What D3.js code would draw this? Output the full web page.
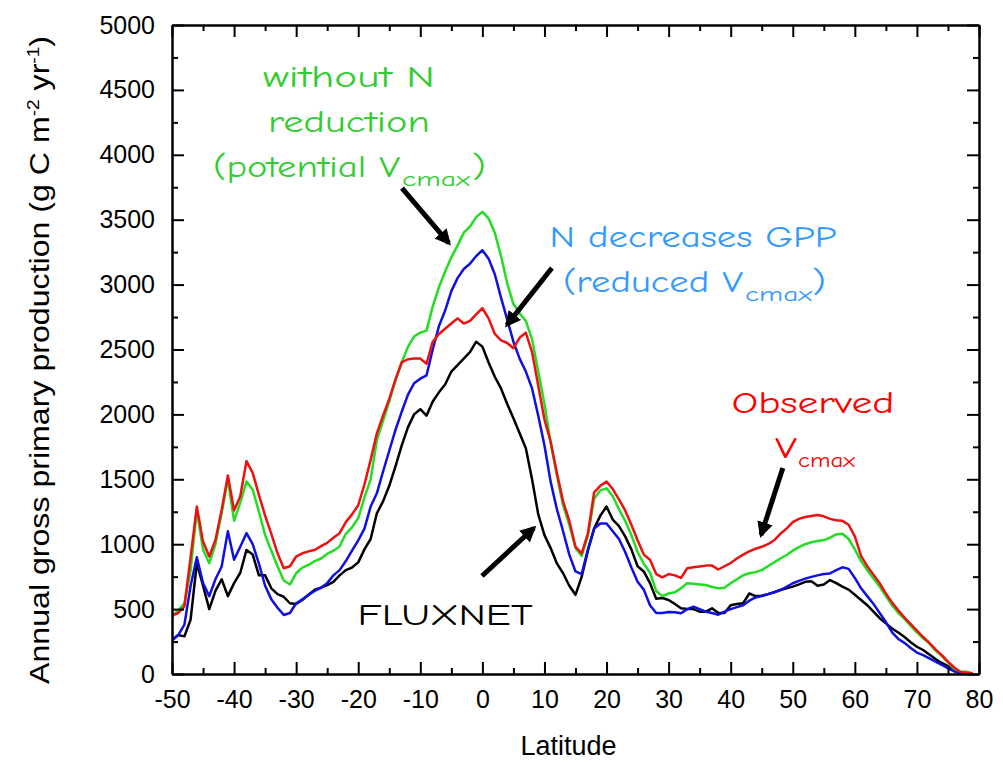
<!DOCTYPE html>
<html>
<head>
<meta charset="utf-8">
<script src="https://cdn.jsdelivr.net/npm/d3@7"></script>
<style>
body { margin: 0; background: #fff; }
svg { display: block; }
.axis path, .axis line { stroke: #000; stroke-width: 2; }
.axis text { font-family: "Liberation Sans", Arial, sans-serif; font-size: 25px; fill: #000; }
.note { font-family: "Comic Sans MS", "Comic Neue", "DejaVu Sans", sans-serif; }
</style>
</head>
<body>
<svg id="chart" width="1003" height="762"></svg>
<script>
// latitude grid (degrees)
var lat = [-50,-49,-48,-47,-46,-45,-44,-43,-42,-41,-40,-39,-38,-37,-36,-35,-34,-33,-32,-31,
  -30,-29,-28,-27,-26,-25,-24,-23,-22,-21,-20,-19,-18,-17,-16,-15,-14,-13,-12,-11,
  -10,-9,-8,-7,-6,-5,-4,-3,-2,-1,0,1,2,3,4,5,6,7,8,9,
  10,11,12,13,14,15,16,17,18,19,20,21,22,23,24,25,26,27,28,29,
  30,31,32,33,34,35,36,37,38,39,40,41,42,43,44,45,46,47,48,49,
  50,51,52,53,54,55,56,57,58,59,60,61,62,63,64,65,66,67,68,69,
  70,71,72,73,74,75,76,77,78,79];

// observed Vcmax (red)
var observed = [450,470,520,900,1290,1020,905,1033,1264,1530,1260,1370,1640,1550,1380,1220,1080,930,815,830,
  905,930,945,955,985,1010,1050,1085,1170,1230,1300,1460,1650,1854,1990,2120,2270,2400,2425,2430,
  2430,2390,2560,2620,2660,2700,2740,2700,2720,2770,2818,2740,2620,2570,2550,2510,2590,2630,2480,2220,
  1960,1790,1550,1330,1180,980,930,1084,1400,1450,1482,1425,1345,1260,1150,1030,920,880,770,745,
  770,760,740,815,822,828,835,835,805,830,855,890,920,945,965,980,1000,1030,1080,1120,
  1170,1195,1210,1218,1225,1215,1195,1185,1180,1150,1060,910,830,765,699,620,550,490,435,385,
  335,285,240,190,145,95,50,15,10,5];

// without N reduction, potential Vcmax (green)
var potential = [440,490,545,800,1260,960,853,1000,1240,1500,1180,1320,1483,1420,1250,1070,950,830,720,690,
  776,820,840,870,890,925,950,982,1080,1130,1200,1360,1500,1803,1950,2100,2260,2400,2520,2600,
  2630,2645,2830,2980,3100,3210,3300,3400,3447,3520,3560,3510,3400,3220,3010,2850,2780,2720,2580,2330,
  2080,1780,1530,1300,1150,970,910,1065,1350,1415,1430,1370,1270,1180,1070,940,850,780,640,600,
  620,630,660,700,695,690,686,670,660,665,700,730,760,776,785,800,830,860,890,917,
  950,978,1000,1015,1025,1032,1050,1075,1080,1040,960,870,800,735,673,600,530,470,425,370,
  320,275,235,180,140,90,40,20,18,5];

// N decreases GPP, reduced Vcmax (blue)
var reduced = [260,300,380,680,900,700,600,730,828,1100,880,980,1085,1000,850,680,575,510,455,470,
  545,575,610,640,665,700,760,800,870,950,1030,1120,1290,1392,1560,1720,1880,2020,2150,2240,
  2275,2300,2500,2680,2800,2950,3050,3120,3160,3220,3265,3200,3080,2900,2730,2560,2430,2330,2200,1990,
  1760,1480,1270,1100,920,790,770,960,1120,1160,1160,1100,1040,940,820,710,650,530,470,470,
  478,475,468,500,519,500,480,470,457,480,500,515,530,565,590,600,615,630,647,672,
  699,718,735,748,760,770,775,800,822,810,740,660,600,540,470,400,320,270,240,200,
  165,145,120,95,70,45,20,5,0,0];

// FLUXNET (black)
var fluxnet = [260,300,290,420,853,680,500,640,730,600,700,780,956,920,760,760,660,615,595,545,
  540,570,610,650,665,685,710,760,800,820,860,960,1040,1238,1330,1450,1600,1760,1900,2000,
  2040,1990,2100,2170,2230,2330,2380,2430,2480,2560,2522,2400,2290,2200,2080,1970,1854,1740,1500,1230,
  1070,970,852,776,680,610,750,950,1120,1220,1290,1190,1140,1060,960,830,790,700,580,585,
  570,540,506,500,500,480,480,506,470,470,530,540,545,620,600,603,615,630,647,660,
  673,690,710,715,680,690,724,700,673,650,610,570,530,480,430,390,350,320,285,245,
  210,185,150,115,85,60,25,10,0,0];

var xMajor = [-50,-40,-30,-20,-10,0,10,20,30,40,50,60,70,80];
var xMinor = [-45,-35,-25,-15,-5,5,15,25,35,45,55,65,75];
var yMajor = [0,500,1000,1500,2000,2500,3000,3500,4000,4500,5000];
var yMinor = [250,750,1250,1750,2250,2750,3250,3750,4250,4750];

var svg = d3.select("#chart");

var x = d3.scaleLinear().domain([-50, 80]).range([172, 979]);
var y = d3.scaleLinear().domain([0, 5000]).range([674, 25]);

var series = [
  { name: "FLUXNET", values: fluxnet, color: "#000000" },
  { name: "reduced", values: reduced, color: "#1010e0" },
  { name: "potential", values: potential, color: "#22dd22" },
  { name: "observed", values: observed, color: "#ee1111" }
];

svg.append("clipPath").attr("id", "plotclip")
  .append("rect")
  .attr("x", x(-50)).attr("y", y(5000))
  .attr("width", x(80) - x(-50)).attr("height", y(0) - y(5000));

var line = d3.line()
  .x(function(d) { return x(d[0]); })
  .y(function(d) { return y(d[1]); });

var g = svg.append("g").attr("clip-path", "url(#plotclip)");

series.forEach(function(s) {
  var pts = lat.map(function(l, i) { return [l, s.values[i]]; });
  g.append("path")
    .datum(pts)
    .attr("fill", "none")
    .attr("stroke", s.color)
    .attr("stroke-width", 2.5)
    .attr("stroke-linejoin", "round")
    .attr("d", line);
});

// plain hyphen for negative labels, like the original
var plain = function(d) { return String(d); };

// axes: major + minor ticks, all pointing inward
function addAxis(axis, tx, ty) {
  svg.append("g").attr("class", "axis")
    .attr("transform", "translate(" + tx + "," + ty + ")")
    .call(axis);
}

addAxis(d3.axisBottom(x).tickValues(xMajor).tickSize(-12).tickSizeOuter(0).tickPadding(16)
  .tickFormat(plain), 0, y(0));
addAxis(d3.axisBottom(x).tickValues(xMinor).tickSize(-6).tickSizeOuter(0).tickFormat(""), 0, y(0));
addAxis(d3.axisTop(x).tickValues(xMajor).tickSize(-12).tickSizeOuter(0).tickFormat(""), 0, y(5000));
addAxis(d3.axisTop(x).tickValues(xMinor).tickSize(-6).tickSizeOuter(0).tickFormat(""), 0, y(5000));
addAxis(d3.axisLeft(y).tickValues(yMajor).tickSize(-12).tickSizeOuter(0).tickPadding(17)
  .tickFormat(plain), x(-50), 0);
addAxis(d3.axisLeft(y).tickValues(yMinor).tickSize(-6).tickSizeOuter(0).tickFormat(""), x(-50), 0);
addAxis(d3.axisRight(y).tickValues(yMajor).tickSize(-12).tickSizeOuter(0).tickFormat(""), x(80), 0);
addAxis(d3.axisRight(y).tickValues(yMinor).tickSize(-6).tickSizeOuter(0).tickFormat(""), x(80), 0);

svg.selectAll(".axis .tick text").attr("fill", "#000");

// axis titles
svg.append("text")
  .attr("x", (x(-50) + x(80)) / 2 - 7)
  .attr("y", 755)
  .attr("text-anchor", "middle")
  .style("font-family", "'Liberation Sans', Arial, sans-serif")
  .style("font-size", "27px")
  .text("Latitude");

var ylab = svg.append("text")
  .attr("transform", "translate(49,360) rotate(-90)")
  .attr("text-anchor", "middle")
  .attr("textLength", 648)
  .attr("lengthAdjust", "spacingAndGlyphs")
  .style("font-family", "'Liberation Sans Narrow', 'Liberation Sans', Arial, sans-serif")
  .style("font-size", "27px");
ylab.append("tspan").text("Annual gross primary production (g C m");
ylab.append("tspan").attr("dy", -10).style("font-size", "16px").text("-2");
ylab.append("tspan").attr("dy", 10).text(" yr");
ylab.append("tspan").attr("dy", -10).style("font-size", "16px").text("-1");
ylab.append("tspan").attr("dy", 10).text(")");

// annotations: [text, lat, value, anchor, length, size, color]
var notes = [
  ["without N", -21.5, 4522, "middle", 172, 30, "#33cc33"],
  ["reduction", -21.5, 4176, "middle", 162, 30, "#33cc33"],
  ["(potential V", -43.4, 3829, "start", 187, 30, "#33cc33"],
  ["cmax", -12.95, 3760, "start", 68, 21, "#33cc33"],
  [")", -1.67, 3829, "start", 14, 30, "#33cc33"],
  ["N decreases GPP", 33.93, 3290, "middle", 287, 30, "#3399ff"],
  ["(reduced V", 12.98, 2943, "start", 180, 30, "#3399ff"],
  ["cmax", 42.3, 2874, "start", 67, 21, "#3399ff"],
  [")", 53.1, 2943, "start", 14, 30, "#3399ff"],
  ["Observed", 53.25, 2011, "middle", 163, 30, "#ff0000"],
  ["V", 47.13, 1664, "start", 22, 30, "#ff0000"],
  ["cmax", 50.84, 1595, "start", 57, 21, "#ff0000"],
  ["FLUXNET", -6.0, 377, "middle", 175, 30, "#000000"]
];

svg.selectAll("text.note")
  .data(notes)
  .enter().append("text")
  .attr("class", "note")
  .attr("x", function(d) { return x(d[1]); })
  .attr("y", function(d) { return y(d[2]); })
  .attr("text-anchor", function(d) { return d[3]; })
  .attr("textLength", function(d) { return d[4]; })
  .attr("lengthAdjust", "spacingAndGlyphs")
  .style("font-size", function(d) { return d[5] + "px"; })
  .attr("fill", function(d) { return d[6]; })
  .text(function(d) { return d[0]; });

// arrows: [fromLat, fromVal, toLat, toVal]
var arrows = [
  [-12.95, 3744, -5.4, 3320],
  [11.2, 3128, 3.96, 2689],
  [-0.06, 755, 8.3, 1125],
  [48.4, 1587, 44.9, 1071]
];

svg.append("defs").append("marker")
  .attr("id", "head")
  .attr("viewBox", "0 0 10 10")
  .attr("refX", 8).attr("refY", 5)
  .attr("markerWidth", 3.2).attr("markerHeight", 3.2)
  .attr("orient", "auto")
  .append("path")
  .attr("d", "M0,0 L10,5 L0,10 z")
  .attr("fill", "#000");

svg.selectAll("line.arrow")
  .data(arrows)
  .enter().append("line")
  .attr("class", "arrow")
  .attr("x1", function(d) { return x(d[0]); })
  .attr("y1", function(d) { return y(d[1]); })
  .attr("x2", function(d) { return x(d[2]); })
  .attr("y2", function(d) { return y(d[3]); })
  .attr("stroke", "#000")
  .attr("stroke-width", 5)
  .attr("marker-end", "url(#head)");
</script>
</body>
</html>
